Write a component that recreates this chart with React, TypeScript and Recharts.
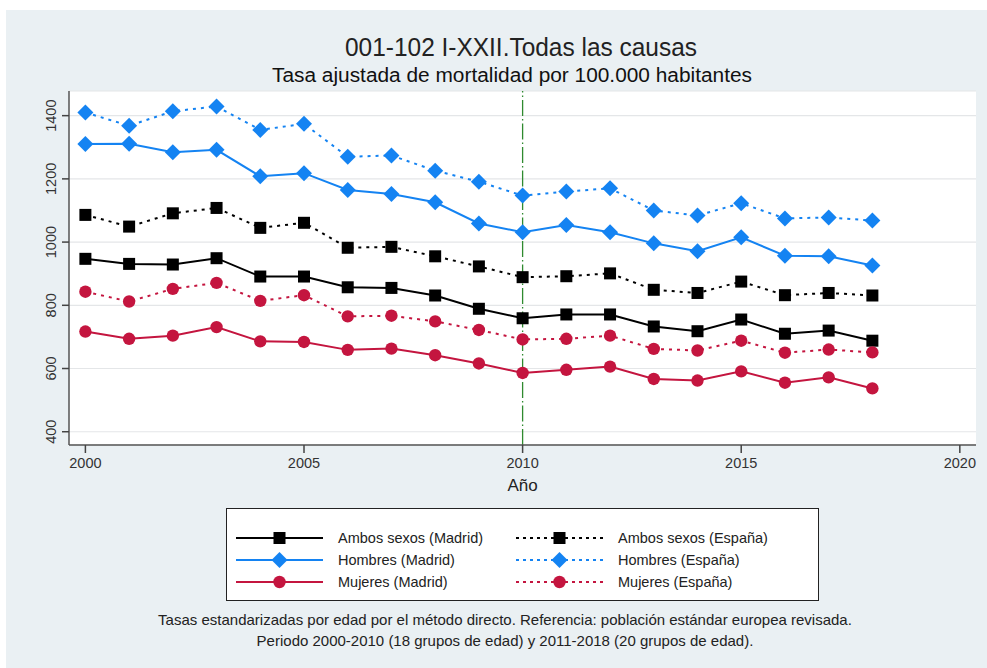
import React from 'react';
import { LineChart, Line, XAxis, YAxis, CartesianGrid, ReferenceLine } from 'recharts';

const years = [2000, 2001, 2002, 2003, 2004, 2005, 2006, 2007, 2008, 2009, 2010, 2011, 2012, 2013, 2014, 2015, 2016, 2017, 2018];
const ambosMadrid = [947, 931, 929, 949, 891, 891, 857, 855, 831, 789, 759, 771, 771, 733, 718, 755, 710, 720, 688];
const ambosEspana = [1086, 1049, 1091, 1108, 1045, 1061, 982, 985, 955, 923, 889, 892, 901, 849, 839, 875, 832, 839, 831];
const hombresMadrid = [1310, 1311, 1284, 1292, 1208, 1218, 1165, 1152, 1126, 1059, 1031, 1054, 1031, 996, 971, 1015, 957, 955, 926];
const hombresEspana = [1410, 1368, 1414, 1429, 1355, 1374, 1270, 1274, 1226, 1191, 1147, 1160, 1170, 1100, 1084, 1123, 1075, 1078, 1068];
const mujeresMadrid = [717, 694, 704, 731, 686, 684, 659, 663, 642, 616, 586, 596, 606, 567, 562, 591, 555, 572, 537];
const mujeresEspana = [843, 812, 852, 871, 814, 832, 765, 767, 749, 722, 692, 694, 704, 662, 657, 688, 650, 660, 651];

const xTicks = [2000, 2005, 2010, 2015, 2020];
const yTicks = [400, 600, 800, 1000, 1200, 1400];

const titleText = '001-102 I-XXII.Todas las causas';
const subtitleText = 'Tasa ajustada de mortalidad por 100.000 habitantes';
const xAxisTitle = 'Año';
const footerLines = [
  'Tasas estandarizadas por edad por el método directo. Referencia: población estándar europea revisada.',
  'Periodo 2000-2010 (18 grupos de edad) y 2011-2018 (20 grupos de edad).',
];

const BLACK = '#000000';
const BLUE = '#1483f2';
const RED = '#c4153f';
const FONT = "'Liberation Sans', Arial, sans-serif";

type Shape = 'square' | 'diamond' | 'circle';
const series: { key: string; name: string; values: number[]; color: string; shape: Shape; dotted: boolean }[] = [
  { key: 'am', name: 'Ambos sexos (Madrid)', values: ambosMadrid, color: BLACK, shape: 'square', dotted: false },
  { key: 'ae', name: 'Ambos sexos (España)', values: ambosEspana, color: BLACK, shape: 'square', dotted: true },
  { key: 'hm', name: 'Hombres (Madrid)', values: hombresMadrid, color: BLUE, shape: 'diamond', dotted: false },
  { key: 'he', name: 'Hombres (España)', values: hombresEspana, color: BLUE, shape: 'diamond', dotted: true },
  { key: 'mm', name: 'Mujeres (Madrid)', values: mujeresMadrid, color: RED, shape: 'circle', dotted: false },
  { key: 'me', name: 'Mujeres (España)', values: mujeresEspana, color: RED, shape: 'circle', dotted: true },
];

const data = years.map((y, i) => {
  const row: Record<string, number> = { year: y };
  series.forEach((s) => {
    row[s.key] = s.values[i];
  });
  return row;
});

function marker(shape: Shape, color: string, cx: number, cy: number, key?: string) {
  if (shape === 'square') {
    const s = 12;
    return <rect key={key} x={cx - s / 2} y={cy - s / 2} width={s} height={s} fill={color} />;
  }
  if (shape === 'diamond') {
    const r = 8;
    return (
      <polygon
        key={key}
        points={`${cx},${cy - r} ${cx + r},${cy} ${cx},${cy + r} ${cx - r},${cy}`}
        fill={color}
      />
    );
  }
  return <circle key={key} cx={cx} cy={cy} r={6.2} fill={color} />;
}

const YTick = (props: any) => {
  const { x, y, payload } = props;
  return (
    <text
      x={0}
      y={0}
      transform={`translate(${x - 4},${y}) rotate(-90)`}
      textAnchor="middle"
      fontSize={14.5}
      fill="#333"
      fontFamily={FONT}
    >
      {payload.value}
    </text>
  );
};

const XTick = (props: any) => {
  const { x, y, payload } = props;
  return (
    <text x={x} y={y + 13} textAnchor="middle" fontSize={14.5} fill="#333" fontFamily={FONT}>
      {payload.value}
    </text>
  );
};

const LegendSample = ({ s }: { s: (typeof series)[number] }) => (
  <svg width={90} height={16} style={{ display: 'block' }}>
    <line
      x1={1}
      y1={8}
      x2={88}
      y2={8}
      stroke={s.color}
      strokeWidth={2}
      strokeDasharray={s.dotted ? '3 4' : undefined}
    />
    {marker(s.shape, s.color, 44.5, 8)}
  </svg>
);

export default function App() {
  const madrid = series.filter((s) => !s.dotted);
  const espana = series.filter((s) => s.dotted);
  return (
    <div style={{ position: 'absolute', left: 0, top: 0, width: 987, height: 668, background: '#ffffff', overflow: 'hidden' }}>
      <div style={{ position: 'absolute', left: 6, top: 10, width: 981, height: 658, background: '#eaf0f3' }} />
      <svg width={987} height={100} style={{ position: 'absolute', left: 0, top: 0 }}>
        <text
          x={521}
          y={56}
          textAnchor="middle"
          fontFamily={FONT}
          fontSize={26}
          fill="#222"
          textLength={352}
          lengthAdjust="spacingAndGlyphs"
        >
          {titleText}
        </text>
        <text
          x={512}
          y={82}
          textAnchor="middle"
          fontFamily={FONT}
          fontSize={19.5}
          fill="#111"
          textLength={480}
          lengthAdjust="spacingAndGlyphs"
        >
          {subtitleText}
        </text>
      </svg>
      <div style={{ position: 'absolute', left: 0, top: 0 }}>
        <LineChart width={987} height={668} data={data} margin={{ top: 91, right: 11, bottom: 193, left: 19 }}>
          <CartesianGrid vertical={false} stroke="#e4e6e8" strokeWidth={1.2} fill="#ffffff" />
          <XAxis
            dataKey="year"
            type="number"
            domain={[1999.625, 2020.37]}
            ticks={xTicks}
            allowDataOverflow
            height={30}
            tick={<XTick />}
            tickSize={8}
            tickLine={{ stroke: '#444', strokeWidth: 1.5 }}
            axisLine={{ stroke: '#555', strokeWidth: 1.5 }}
          />
          <YAxis
            type="number"
            domain={[358, 1478]}
            ticks={yTicks}
            allowDataOverflow
            width={50}
            tick={<YTick />}
            tickSize={7}
            tickLine={{ stroke: '#444', strokeWidth: 1.5 }}
            axisLine={{ stroke: '#555', strokeWidth: 1.5 }}
          />
          <ReferenceLine x={2010} stroke="#2f8a2f" strokeWidth={1.3} strokeDasharray="16 3 1.5 3" />
          {series.map((s) => (
            <Line
              key={s.key}
              dataKey={s.key}
              name={s.name}
              stroke={s.color}
              strokeWidth={2}
              strokeDasharray={s.dotted ? '3 5' : undefined}
              isAnimationActive={false}
              dot={(p: any) => marker(s.shape, s.color, p.cx, p.cy, `${s.key}-${p.index}`)}
              activeDot={false}
            />
          ))}
        </LineChart>
      </div>
      <div
        style={{
          position: 'absolute',
          left: 0,
          width: 1045,
          top: 476,
          textAlign: 'center',
          fontFamily: FONT,
          fontSize: 17,
          color: '#222',
          lineHeight: '20px',
        }}
      >
        {xAxisTitle}
      </div>
      <div
        style={{
          position: 'absolute',
          left: 226,
          top: 508,
          width: 593,
          height: 93,
          boxSizing: 'border-box',
          border: '1.3px solid #222',
          background: '#ffffff',
          fontFamily: FONT,
          fontSize: 14.5,
          color: '#222',
        }}
      >
        {[madrid, espana].map((col, ci) => (
          <div key={ci} style={{ position: 'absolute', left: ci === 0 ? 8 : 288, top: 18 }}>
            {col.map((s) => (
              <div key={s.key} style={{ display: 'flex', alignItems: 'center', height: 22 }}>
                <LegendSample s={s} />
                <span style={{ marginLeft: 13, whiteSpace: 'nowrap' }}>{s.name}</span>
              </div>
            ))}
          </div>
        ))}
      </div>
      {footerLines.map((t, i) => (
        <div
          key={i}
          style={{
            position: 'absolute',
            left: 0,
            width: 1010,
            top: 610 + i * 21,
            textAlign: 'center',
            fontFamily: FONT,
            fontSize: 15,
            color: '#222',
            lineHeight: '19px',
          }}
        >
          {t}
        </div>
      ))}
    </div>
  );
}
